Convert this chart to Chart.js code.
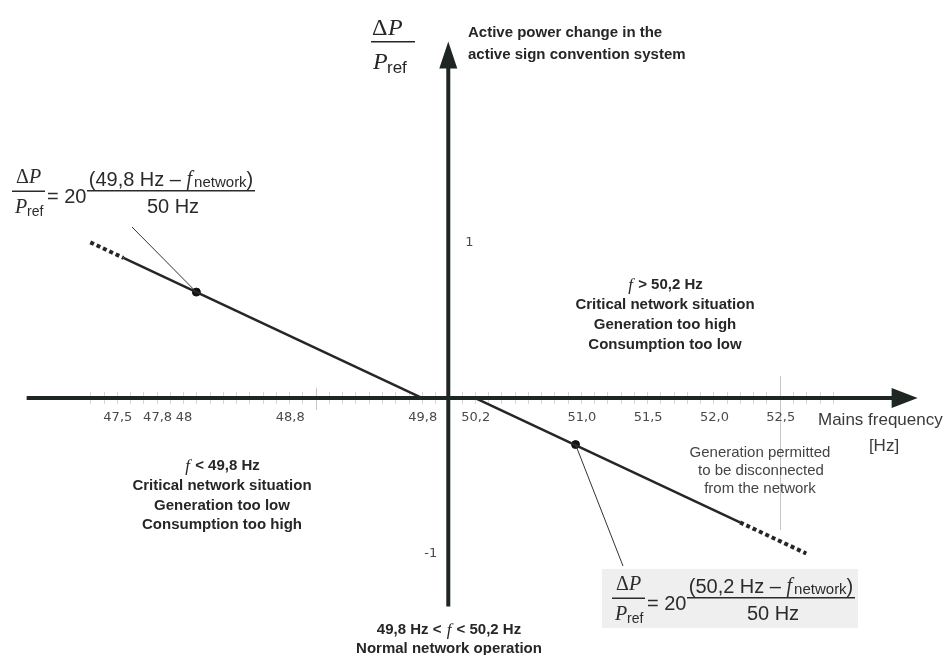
<!DOCTYPE html>
<html>
<head>
<meta charset="utf-8">
<script src="https://cdn.jsdelivr.net/npm/chart.js@4/dist/chart.umd.min.js"></script>
<style>
  html, body { margin: 0; padding: 0; background: #fff; }
  #wrap { width: 950px; height: 655px; }
</style>
</head>
<body>
<div id="wrap"><canvas id="c" width="950" height="655"></canvas></div>
<script>
// ---- data ----
const freqTicks      = [47.5, 47.8, 48.0, 48.8, 49.8, 50.2, 51.0, 51.5, 52.0, 52.5];
const freqTickLabels = ['47,5', '47,8', '48', '48,8', '49,8', '50,2', '51,0', '51,5', '52,0', '52,5'];
const powerTicks      = [1, -1];
const powerTickLabels = ['1', '-1'];

// under-frequency branch (f < 49,8 Hz)
const lowSolidFreq   = [47.55, 49.8];
const lowSolidPower  = [0.90, 0.0];
const lowDashFreq    = [47.3, 47.55];
const lowDashPower   = [1.0, 0.90];
// over-frequency branch (f > 50,2 Hz)
const highSolidFreq  = [50.2, 52.2];
const highSolidPower = [0.0, -0.80];
const highDashFreq   = [52.2, 52.7];
const highDashPower  = [-0.80, -1.0];
// marked operating points
const dotFreq  = [48.1, 50.96];
const dotPower = [0.68, -0.30];

// axis extents (value space)
const xAxisFrom = 46.82, xAxisTo = 53.54;
const yAxisFrom = -1.34, yAxisTo = 2.29;

const pts = (xs, ys) => xs.map((x, i) => ({ x: x, y: ys[i] }));

const INK = '#262626';
const AXIS = '#1d2621';

const drawPlugin = {
  id: 'diagram',
  beforeDatasetsDraw(chart) {
    const ctx = chart.ctx, xs = chart.scales.x, ys = chart.scales.y;
    const x0 = xs.getPixelForValue(50), y0 = ys.getPixelForValue(0);
    ctx.save();
    // faint minor ticks on the frequency axis
    ctx.strokeStyle = '#d6d6d6'; ctx.lineWidth = 1;
    for (let k = 473; k <= 529; k++) {
      const px = Math.round(xs.getPixelForValue(k / 10)) + 0.5;
      ctx.beginPath(); ctx.moveTo(px, y0 - 6); ctx.lineTo(px, y0 + 6); ctx.stroke();
    }
    // faint marker at 52,5
    const p525 = Math.round(xs.getPixelForValue(52.5)) + 0.5;
    ctx.strokeStyle = '#c6c6c6';
    ctx.beginPath(); ctx.moveTo(p525, y0 - 22); ctx.lineTo(p525, ys.getPixelForValue(-0.85)); ctx.stroke();
    const p49 = Math.round(xs.getPixelForValue(49.0)) + 0.5;
    ctx.beginPath(); ctx.moveTo(p49, y0 - 10); ctx.lineTo(p49, y0 + 12); ctx.stroke();

    // x axis with arrow
    const xa = xs.getPixelForValue(xAxisFrom), xb = xs.getPixelForValue(xAxisTo);
    ctx.strokeStyle = AXIS; ctx.fillStyle = AXIS; ctx.lineWidth = 4;
    ctx.beginPath(); ctx.moveTo(xa, y0); ctx.lineTo(xb - 22, y0); ctx.stroke();
    ctx.beginPath(); ctx.moveTo(xb, y0); ctx.lineTo(xb - 26, y0 - 10); ctx.lineTo(xb - 26, y0 + 10); ctx.closePath(); ctx.fill();
    // y axis with arrow
    const ya = ys.getPixelForValue(yAxisFrom), yb = ys.getPixelForValue(yAxisTo);
    ctx.beginPath(); ctx.moveTo(x0, ya); ctx.lineTo(x0, yb + 22); ctx.stroke();
    ctx.beginPath(); ctx.moveTo(x0, yb); ctx.lineTo(x0 - 9, yb + 27); ctx.lineTo(x0 + 9, yb + 27); ctx.closePath(); ctx.fill();

    // tick labels
    ctx.fillStyle = '#4a4a4a'; ctx.font = '13px "DejaVu Sans"';
    ctx.textAlign = 'center'; ctx.textBaseline = 'middle';
    freqTicks.forEach((v, i) => {
      ctx.fillText(freqTickLabels[i], xs.getPixelForValue(v) + 1, y0 + 20);
    });
    powerTicks.forEach((v, i) => {
      const py = ys.getPixelForValue(v);
      ctx.textAlign = v > 0 ? 'left' : 'right';
      ctx.fillText(powerTickLabels[i], v > 0 ? x0 + 17 : x0 - 11, py);
    });
    ctx.restore();
  },
  afterDatasetsDraw(chart) {
    const ctx = chart.ctx, xs = chart.scales.x, ys = chart.scales.y;
    ctx.save();
    // leader lines from the operating points to the formulas
    ctx.strokeStyle = '#333'; ctx.lineWidth = 1;
    const d1x = xs.getPixelForValue(dotFreq[0]), d1y = ys.getPixelForValue(dotPower[0]);
    ctx.beginPath(); ctx.moveTo(d1x, d1y); ctx.lineTo(132, 227); ctx.stroke();
    const d2x = xs.getPixelForValue(dotFreq[1]), d2y = ys.getPixelForValue(dotPower[1]);
    ctx.beginPath(); ctx.moveTo(d2x, d2y); ctx.lineTo(623, 566); ctx.stroke();

    // formula background box (right)
    ctx.fillStyle = '#efefef';
    ctx.fillRect(602, 569, 256, 59);

    drawFormula(ctx, 12, 191, '49,8');
    drawFormula(ctx, 612, 598, '50,2');

    // y axis quantity ΔP / Pref
    ctx.fillStyle = INK; ctx.textBaseline = 'middle'; ctx.textAlign = 'left';
    ctx.font = '24px "Liberation Serif"';
    ctx.fillText('\u0394', 372, 29);
    ctx.font = 'italic 24px "Liberation Serif"';
    ctx.fillText('P', 388, 29);
    ctx.fillRect(371, 41, 44, 1.5);
    ctx.fillText('P', 373, 63);
    ctx.font = '17px "Liberation Sans"';
    ctx.fillText('ref', 387, 68);

    // annotation texts
    ctx.fillStyle = INK;
    ctx.font = 'bold 15px "Liberation Sans"';
    ctx.textAlign = 'left';
    ctx.fillText('Active power change in the', 468, 33);
    ctx.fillText('active sign convention system', 468, 55);

    fLine(ctx, 665, 285, '', ' > 50,2 Hz');
    centerBold(ctx, 'Critical network situation', 665, 305);
    centerBold(ctx, 'Generation too high', 665, 325);
    centerBold(ctx, 'Consumption too low', 665, 345);

    fLine(ctx, 222, 466, '', ' < 49,8 Hz');
    centerBold(ctx, 'Critical network situation', 222, 486);
    centerBold(ctx, 'Generation too low', 222, 506);
    centerBold(ctx, 'Consumption too high', 222, 525);

    fLine(ctx, 449, 630, '49,8 Hz < ', ' < 50,2 Hz');
    centerBold(ctx, 'Normal network operation', 449, 649);

    ctx.fillStyle = '#3a3a3a';
    ctx.font = '17px "Liberation Sans"';
    ctx.textAlign = 'left';
    ctx.fillText('Mains frequency', 818, 420);
    ctx.textAlign = 'center';
    ctx.fillText('[Hz]', 884, 446);

    ctx.fillStyle = '#444';
    ctx.font = '15px "Liberation Sans"';
    ctx.fillText('Generation permitted', 760, 453);
    ctx.fillText('to be disconnected', 761, 471);
    ctx.fillText('from the network', 760, 489);
    ctx.restore();
  }
};

function centerBold(ctx, s, x, y) {
  ctx.fillStyle = INK;
  ctx.font = 'bold 15px "Liberation Sans"';
  ctx.textAlign = 'center';
  ctx.textBaseline = 'middle';
  ctx.fillText(s, x, y);
}

// bold line with italic serif "f" in the middle, centered at cx
function fLine(ctx, cx, cy, pre, post) {
  const bold = 'bold 15px "Liberation Sans"';
  const ital = 'italic 17px "Liberation Serif"';
  ctx.textBaseline = 'middle';
  ctx.font = bold; const w1 = ctx.measureText(pre).width, w3 = ctx.measureText(post).width;
  ctx.font = ital; const w2 = ctx.measureText('f').width + 2;
  let x = cx - (w1 + w2 + w3) / 2;
  ctx.textAlign = 'left';
  ctx.fillStyle = INK;
  ctx.font = bold; ctx.fillText(pre, x, cy); x += w1;
  ctx.font = ital; ctx.fillText('f', x + 1, cy + 1); x += w2;
  ctx.font = bold; ctx.fillText(post, x, cy);
}

function drawFormula(ctx, x0, barY, fval) {
  ctx.save();
  ctx.fillStyle = '#2b2b2b';
  ctx.textBaseline = 'middle';
  ctx.textAlign = 'left';
  ctx.font = '20px "Liberation Serif"';
  ctx.fillText('\u0394', x0 + 4, barY - 13);
  ctx.font = 'italic 20px "Liberation Serif"';
  ctx.fillText('P', x0 + 17, barY - 13);
  ctx.fillRect(x0, barY - 0.5, 33, 1.5);
  ctx.fillText('P', x0 + 3, barY + 17);
  ctx.font = '14px "Liberation Sans"';
  ctx.fillText('ref', x0 + 15, barY + 21);
  ctx.font = '20px "Liberation Sans"';
  ctx.fillText('= 20', x0 + 35, barY + 6);
  // big fraction
  const bx0 = x0 + 75, bx1 = x0 + 243;
  ctx.fillRect(bx0, barY - 1, bx1 - bx0, 1.5);
  const a = '(' + fval + ' Hz \u2013 ';
  ctx.font = '20px "Liberation Sans"'; const wa = ctx.measureText(a).width;
  ctx.font = 'italic 20px "Liberation Serif"'; const wf = ctx.measureText('f').width + 2;
  ctx.font = '15px "Liberation Sans"'; const wn = ctx.measureText('network').width;
  ctx.font = '20px "Liberation Sans"'; const wc = ctx.measureText(')').width;
  let x = (bx0 + bx1) / 2 - (wa + wf + wn + wc) / 2;
  const ny = barY - 11;
  ctx.font = '20px "Liberation Sans"'; ctx.fillText(a, x, ny); x += wa;
  ctx.font = 'italic 20px "Liberation Serif"'; ctx.fillText('f', x, ny); x += wf;
  ctx.font = '15px "Liberation Sans"'; ctx.fillText('network', x, ny + 3); x += wn;
  ctx.font = '20px "Liberation Sans"'; ctx.fillText(')', x, ny);
  ctx.textAlign = 'center';
  ctx.fillText('50 Hz', (bx0 + bx1) / 2 + 2, barY + 16);
  ctx.restore();
}

const lineStyle = { showLine: true, pointRadius: 0, borderColor: INK, backgroundColor: INK, borderWidth: 2.5, fill: false };
const dashStyle = { showLine: true, pointRadius: 0, borderColor: INK, backgroundColor: INK, borderWidth: 4, borderDash: [4, 3], fill: false };

new Chart(document.getElementById('c'), {
  type: 'scatter',
  data: {
    datasets: [
      Object.assign({ label: 'f < 49,8 Hz', data: pts(lowSolidFreq, lowSolidPower) }, lineStyle),
      Object.assign({ label: 'f < 49,8 Hz (ext.)', data: pts(lowDashFreq, lowDashPower) }, dashStyle),
      Object.assign({ label: 'f > 50,2 Hz', data: pts(highSolidFreq, highSolidPower) }, lineStyle),
      Object.assign({ label: 'f > 50,2 Hz (ext.)', data: pts(highDashFreq, highDashPower) }, dashStyle),
      { label: 'points', data: pts(dotFreq, dotPower), showLine: false, pointRadius: 4, pointBackgroundColor: '#111', pointBorderColor: '#111' }
    ]
  },
  options: {
    responsive: false,
    animation: false,
    devicePixelRatio: 1,
    layout: { padding: 0 },
    plugins: { legend: { display: false }, tooltip: { enabled: false } },
    scales: {
      x: { type: 'linear', min: 46.6567, max: 53.7463, display: false },
      y: { type: 'linear', min: -1.6203, max: 2.5253, display: false }
    }
  },
  plugins: [drawPlugin]
});
</script>
</body>
</html>
